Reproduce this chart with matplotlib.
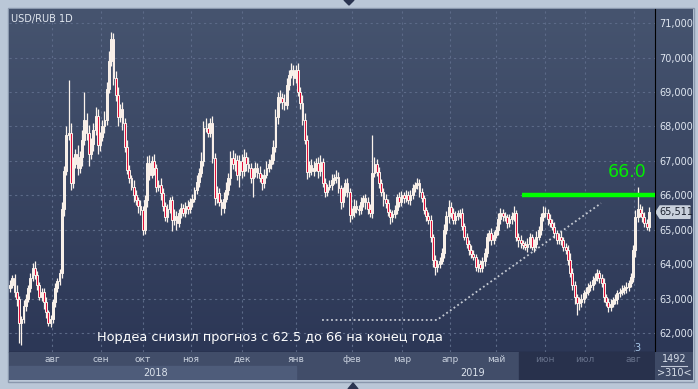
import numpy as np
import matplotlib
matplotlib.use("Agg")
import matplotlib.pyplot as plt
from matplotlib.patches import Polygon, Rectangle

# daily closes USD/RUB, mid-Jul 2018 .. early Aug 2019
closes = [
    63.4, 63.6, 63.2, 63.0, 62.3, 62.4, 62.8, 63.0, 63.3, 63.6,
    63.9, 63.7, 63.4, 63.05, 63.2, 62.9, 62.6, 62.3, 62.4, 62.9,
    63.3, 63.5, 63.75, 65.6, 66.7, 67.75, 67.8, 66.35, 66.9, 67.2,
    66.8, 67.1, 67.6, 68.2, 67.8, 67.2, 67.5, 67.9, 68.3, 67.45,
    67.7, 68.0, 68.2, 69.1, 69.9, 70.55, 69.4, 68.9, 68.27, 68.5,
    68.1, 67.4, 66.73, 66.5, 66.24, 66.0, 65.86, 65.7, 65.57, 65.0,
    65.86, 66.93, 66.6, 67.0, 66.8, 66.24, 66.3, 66.07, 65.7, 65.37,
    65.6, 65.86, 65.28, 65.4, 65.2, 65.5, 65.63, 65.5, 65.7, 65.6,
    65.8, 65.9, 66.15, 66.4, 66.64, 67.0, 67.95, 67.95, 67.8, 68.1,
    67.08, 65.92, 66.07, 65.8, 65.63, 65.9, 66.15, 66.5, 67.08, 66.9,
    67.02, 66.6, 67.0, 66.7, 67.1, 66.9, 66.8, 66.5, 66.67, 66.8,
    66.64, 66.5, 66.35, 66.6, 66.8, 66.9, 67.02, 67.4, 68.27, 68.85,
    68.82, 68.7, 68.62, 69.2, 69.5, 69.64, 69.4, 69.64, 69.0, 68.67,
    68.2, 67.6, 66.67, 66.88, 66.7, 66.8, 66.93, 66.7, 66.96, 66.35,
    66.1, 66.24, 66.3, 66.44, 66.5, 66.53, 66.2, 65.8, 66.1, 66.35,
    66.1, 65.42, 65.51, 65.7, 65.6, 65.57, 65.8, 65.92, 65.8, 65.6,
    65.48, 66.64, 66.9, 66.67, 66.35, 66.1, 65.9, 65.77, 65.51, 65.37,
    65.45, 65.57, 65.95, 65.8, 66.0, 65.92, 66.0, 65.86, 66.0, 66.2,
    66.3, 66.35, 66.1, 65.92, 65.57, 65.4, 65.28, 64.79, 64.12, 63.92,
    64.0, 64.1, 64.32, 65.0, 65.4, 65.66, 65.5, 65.28, 65.4, 65.48,
    65.48, 65.1, 64.79, 64.6, 64.41, 64.3, 64.21, 63.92, 64.0, 63.89,
    64.1, 64.32, 64.79, 64.9, 64.7, 64.85, 65.0, 65.3, 65.48, 65.4,
    65.37, 65.19, 65.3, 65.4, 65.48, 64.79, 64.7, 64.61, 64.55, 64.5,
    64.6, 64.79, 64.5, 64.6, 64.8, 65.0, 65.37, 65.5, 65.48, 65.3,
    65.19, 65.08, 64.9, 64.7, 64.8, 64.7, 64.5, 64.41, 64.12, 63.74,
    63.4, 63.04, 62.87, 62.9, 63.0, 63.16, 63.2, 63.33, 63.4, 63.54,
    63.6, 63.74, 63.6, 63.45, 63.04, 62.9, 62.75, 62.85, 62.96, 63.0,
    63.16, 63.2, 63.25, 63.3, 63.35, 63.45, 63.62, 64.41, 65.37, 65.6,
    65.48, 65.37, 65.2, 65.08, 65.511,
]
opens = [63.3] + closes[:-1]

# wick lengths above / below the body, in kopecks
wick_hi = [
    15, 10, 12, 20, 8, 10, 15, 12, 10, 14, 12, 18, 10, 8, 12, 10, 15, 8, 12, 10,
    15, 10, 12, 20, 15, 25, 155, 30, 20, 15, 25, 20, 30, 80, 20, 25, 15, 20, 25, 20,
    15, 20, 25, 20, 30, 20, 15, 20, 25, 15, 20, 15, 20, 15, 10, 20, 15, 10, 15, 12,
    15, 20, 25, 15, 20, 10, 15, 20, 15, 10, 15, 10, 12, 20, 15, 10, 15, 12, 10, 15,
    12, 15, 10, 20, 15, 25, 20, 29, 15, 14, 20, 15, 20, 15, 10, 20, 25, 15, 20, 25,
    20, 15, 18, 20, 25, 15, 20, 15, 12, 18, 15, 20, 12, 15, 20, 15, 18, 20, 25, 15,
    20, 15, 25, 20, 15, 20, 14, 14, 20, 15, 25, 20, 15, 12, 18, 20, 15, 18, 20, 12,
    15, 10, 15, 18, 12, 20, 15, 10, 15, 12, 15, 10, 12, 18, 15, 12, 15, 10, 12, 15,
    15, 111, 20, 15, 15, 12, 10, 15, 12, 10, 12, 15, 10, 15, 12, 10, 15, 12, 15, 12,
    10, 15, 12, 10, 8, 10, 12, 15, 10, 15, 12, 10, 15, 18, 15, 20, 15, 12, 15, 10,
    12, 15, 10, 12, 10, 15, 12, 10, 15, 12, 10, 15, 12, 10, 15, 12, 10, 20, 15, 12,
    12, 10, 15, 12, 20, 10, 12, 15, 10, 12, 15, 12, 10, 12, 15, 10, 12, 20, 15, 12,
    15, 12, 15, 10, 12, 15, 10, 12, 15, 20, 15, 12, 10, 15, 12, 10, 15, 12, 10, 12,
    15, 12, 10, 12, 15, 10, 12, 15, 10, 12, 10, 12, 15, 10, 12, 10, 12, 15, 20, 64,
    15, 20, 15, 12, 15,
]
wick_lo = [
    12, 10, 15, 20, 60, 65, 12, 15, 10, 12, 10, 12, 15, 10, 12, 20, 15, 10, 12, 10,
    15, 12, 10, 15, 20, 12, 15, 20, 15, 12, 20, 15, 25, 15, 20, 35, 15, 20, 15, 25,
    15, 12, 20, 15, 12, 15, 20, 15, 25, 15, 20, 15, 12, 15, 10, 20, 15, 20, 15, 15,
    12, 20, 15, 10, 20, 15, 12, 20, 15, 12, 15, 10, 33, 15, 20, 12, 15, 10, 12, 15,
    12, 15, 10, 12, 15, 10, 15, 12, 10, 12, 15, 20, 15, 12, 20, 15, 10, 15, 20, 15,
    20, 15, 35, 20, 15, 20, 12, 15, 55, 15, 15, 12, 20, 15, 10, 12, 15, 12, 15, 20,
    15, 20, 15, 12, 15, 10, 20, 15, 12, 15, 15, 12, 20, 15, 12, 15, 10, 20, 15, 12,
    15, 12, 10, 15, 12, 15, 12, 20, 15, 12, 15, 20, 12, 15, 10, 15, 12, 15, 20, 15,
    12, 15, 10, 12, 15, 12, 20, 15, 12, 20, 15, 12, 10, 15, 12, 15, 10, 12, 15, 12,
    10, 12, 15, 10, 12, 15, 12, 15, 20, 22, 15, 12, 10, 15, 12, 20, 15, 12, 10, 12,
    15, 12, 10, 12, 15, 12, 10, 12, 15, 12, 12, 15, 10, 12, 15, 12, 10, 15, 12, 15,
    12, 15, 10, 12, 15, 12, 20, 15, 12, 10, 15, 12, 10, 15, 12, 10, 15, 12, 10, 15,
    12, 10, 15, 12, 10, 15, 12, 10, 15, 12, 15, 20, 35, 20, 15, 12, 15, 10, 12, 15,
    12, 10, 15, 12, 15, 12, 15, 12, 10, 12, 15, 12, 10, 12, 15, 12, 10, 15, 20, 15,
    12, 15, 12, 10, 12,
]

month_labels = ["авг", "сен", "окт", "ноя", "дек", "янв", "фев", "мар",
                "апр", "май", "июн", "июл", "авг"]
month_pos = [18.7, 40.4, 59.1, 80.4, 103.1, 127.1, 152.0, 174.2,
             195.6, 216.0, 237.8, 255.6, 277.3]
year_labels = ["2018", "2019"]
year_pos = [64.5, 205.8]
y_ticks = [62, 63, 64, 65, 66, 67, 68, 69, 70, 71]

target = 66.0
target_from = 227.5
trend_x = [138.7, 189.8, 262.7]
trend_y = [62.38, 62.38, 65.77]
last_price = 65.511

W, H = 698, 389
XLIM = (-0.45, 286.7)
YLIM = (61.45, 71.41)


def rect(l, t, w, h):
    return [l / W, 1 - (t + h) / H, w / W, h / H]


def gradient(a, top="#46546f", bottom="#2c3756"):
    c1 = np.array(matplotlib.colors.to_rgb(top))
    c2 = np.array(matplotlib.colors.to_rgb(bottom))
    t = np.linspace(0, 1, 256)[:, None]
    img = (c1 * (1 - t) + c2 * t)[:, None, :]
    a.imshow(img, extent=[0, 1, 0, 1], transform=a.transAxes,
             aspect="auto", zorder=0, interpolation="bilinear")


fig = plt.figure(figsize=(W / 100, H / 100), dpi=100, facecolor="#bac7d7")

# frame decorations
deco = fig.add_axes([0, 0, 1, 1], zorder=-2)
deco.set_xlim(0, W)
deco.set_ylim(H, 0)
deco.axis("off")
deco.add_patch(Rectangle((7.5, 7.5), 686, 374, fill=False, ec="#8a98ad", lw=1))
deco.add_patch(Polygon([[344, 0], [354, 0], [349, 5]], color="#2a3450"))
deco.add_patch(Polygon([[348, 389], [358, 389], [353, 383]], color="#2a3450"))

# right price panel
panel = fig.add_axes(rect(655, 9, 38, 343), zorder=-1)
gradient(panel)
panel.set_xlim(0, 38)
panel.set_ylim(*YLIM)
panel.axis("off")
hh = 0.18
panel.add_patch(Polygon([[1, last_price], [5, last_price + hh], [35, last_price + hh],
                         [35, last_price - hh], [5, last_price - hh]],
                        color="#c9d1dc", zorder=3))
panel.text(4.5, last_price, "65,511", fontsize=7, color="#1c2230",
           va="center", ha="left", zorder=4)

# main chart
ax = fig.add_axes(rect(9, 9, 646, 343))
gradient(ax)
ax.set_xlim(*XLIM)
ax.set_ylim(*YLIM)

x = np.arange(len(closes))
o = np.array(opens)
c = np.array(closes)
hi = np.maximum(o, c) + np.array(wick_hi) / 100
lo = np.minimum(o, c) - np.array(wick_lo) / 100
up = c >= o
ax.vlines(x, lo, hi, color="#fbf3ec", lw=0.9, zorder=3)
ax.bar(x[up], (c - o)[up], bottom=o[up], width=0.85,
       color="#f6eee6", edgecolor="#fbf3ec", lw=0.7, zorder=4)
ax.bar(x[~up], (o - c)[~up], bottom=c[~up], width=0.85,
       color="#e0103a", edgecolor="#fbf3ec", lw=0.7, zorder=4)

ax.set_yticks(y_ticks)
ax.set_yticklabels([f"{v:.3f}".replace(".", ",") for v in y_ticks])
ax.yaxis.tick_right()
ax.tick_params(axis="y", length=0, pad=3, labelsize=7, labelcolor="#dfe6f0")
ax.set_xticks(month_pos)
ax.tick_params(axis="x", length=0, labelbottom=False)
ax.grid(True, color="#5c6a88", ls=(0, (2, 3)), lw=0.8)
ax.set_axisbelow(True)
for s in ["top", "left"]:
    ax.spines[s].set_visible(False)
ax.spines["right"].set_color("black")
ax.spines["bottom"].set_color("black")

ax.hlines(target, target_from, XLIM[1], color="#00ff00", lw=3.2, zorder=5)
ax.text(274.2, 66.67, "66.0", color="#00f000", fontsize=12.5,
        ha="center", va="center", zorder=6)
ax.plot(trend_x, trend_y, color="#c5cad3", lw=1.3, ls=(0, (1, 1.5)), zorder=2)
ax.text(38.7, 61.88, "Нордеа снизил прогноз с 62.5 до 66 на конец года",
        color="white", fontsize=9.3, ha="left", va="center", zorder=6)
ax.text(0.003, 0.985, "USD/RUB 1D", transform=ax.transAxes, color="#e2e8f0",
        fontsize=7, ha="left", va="top", zorder=6)
ax.text(279.0, 61.58, "3", color="#a8c8ea", fontsize=7, ha="center",
        va="center", zorder=6)

# time axis band
band = fig.add_axes(rect(9, 352, 646, 28))
band.set_xlim(*XLIM)
band.set_ylim(0, 2)
band.axis("off")
band.add_patch(Rectangle((XLIM[0], 0), XLIM[1] - XLIM[0], 2, color="#414d69"))
band.add_patch(Rectangle((XLIM[0], 0), month_pos[5] - XLIM[0], 1, color="#4e5c7a"))
band.add_patch(Rectangle((226.2, 0), XLIM[1] - 226.2, 2, color="#28314c"))
for i, (lab, p) in enumerate(zip(month_labels, month_pos)):
    col = "#c9d1de" if i < 10 else "#67718b"
    band.text(p, 1.45, lab, fontsize=6.5, color=col, ha="center", va="center")
for lab, p in zip(year_labels, year_pos):
    band.text(p, 0.5, lab, fontsize=7, color="#dbe2ec", ha="center", va="center")

# bottom-right counter cell
cell = fig.add_axes(rect(655, 352, 38, 28))
cell.set_xlim(0, 1)
cell.set_ylim(0, 1)
cell.axis("off")
cell.add_patch(Rectangle((0, 0), 1, 1, color="#3e4a66"))
cell.plot([0.15, 0.85], [0.5, 0.5], color="#c0c8d8", lw=0.8)
cell.text(0.5, 0.75, "1492", fontsize=7, color="#d6dde8", ha="center", va="center")
cell.text(0.5, 0.25, ">310<", fontsize=7, color="#d6dde8", ha="center", va="center")

fig.savefig("out.png", dpi=100, facecolor=fig.get_facecolor())
